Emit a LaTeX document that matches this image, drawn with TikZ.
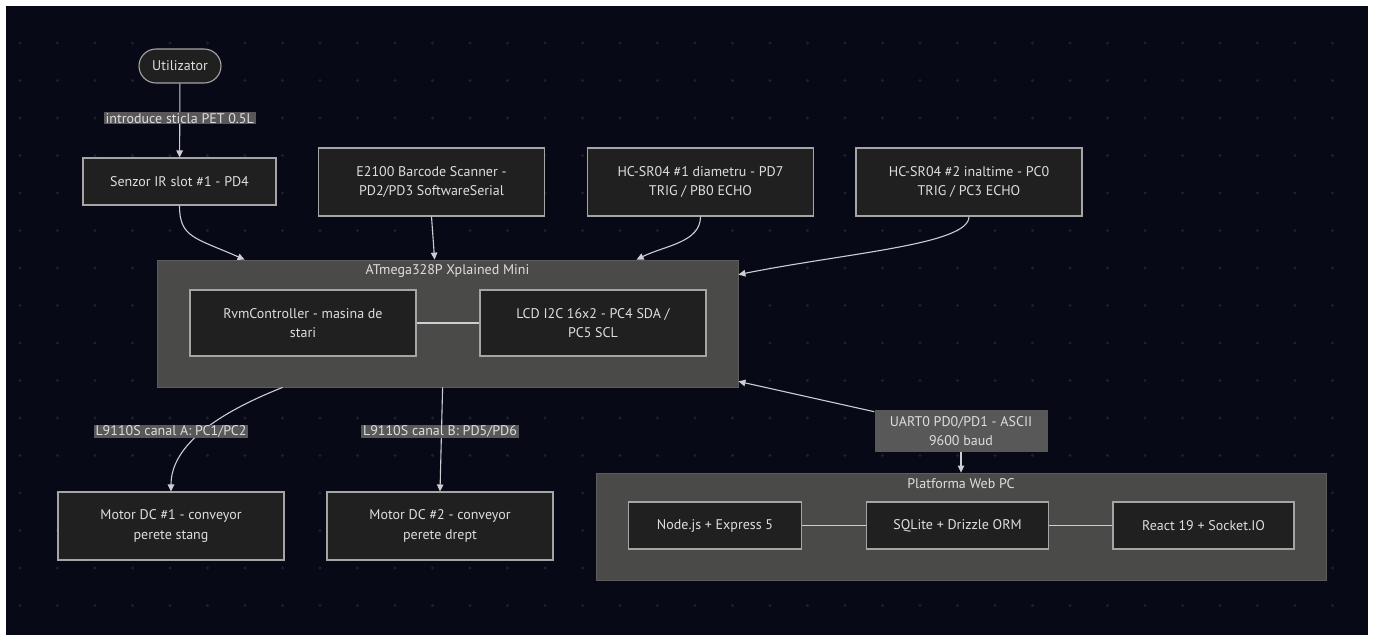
\documentclass[tikz,border=0pt]{standalone}
\usepackage{fontspec}
\setmainfont{PT Sans}
\usetikzlibrary{arrows.meta}
\definecolor{bgc}{RGB}{7,9,23}
\definecolor{dotc}{RGB}{30,32,46}
\definecolor{boxfill}{RGB}{32,32,32}
\definecolor{boxline}{RGB}{165,165,165}
\definecolor{clusterfill}{RGB}{74,75,73}
\definecolor{clusterline}{RGB}{92,92,92}
\definecolor{lblfill}{RGB}{88,88,88}
\definecolor{txt}{RGB}{222,222,222}
\definecolor{edgec}{RGB}{205,205,210}
\begin{document}
\begin{tikzpicture}[x=1pt,y=-1pt,
		font=\fontsize{14}{19.5}\selectfont,
		box/.style={draw=boxline,fill=boxfill,text=txt,line width=1.1pt,align=center,inner sep=0pt,minimum width=226pt,minimum height=68pt},
		cluster/.style={draw=clusterline,fill=clusterfill,line width=0.8pt,inner sep=0pt},
		lbl/.style={fill=lblfill,text=txt,align=center,inner ysep=1pt,inner xsep=2pt},
		arr/.style={draw=edgec,line width=1.1pt,-{Triangle[length=7pt,width=6.5pt]}},
		link/.style={draw=edgec,line width=1.1pt}]
	%Background
	\useasboundingbox (0,0) rectangle (1375,635);
	\fill[white] (0,0) rectangle (1375,635);
	\fill[bgc] (6,6) rectangle (1368,635);
	\foreach \i in {0,...,35}
		\foreach \j in {0,...,15}
			{
				\fill[dotc] (20+37.5*\i,43+37.5*\j) circle (1.6);
			}
	%Clusters
	\node (atmega) at (447.5,323.5) [cluster,minimum width=581pt,minimum height=127pt] {};
	\node (atmegat) at (atmega.north) [anchor=north,text=txt,inner sep=4.5pt] {ATmega328P Xplained Mini};
	\node (platform) at (961,526.5) [cluster,minimum width=730pt,minimum height=107pt] {};
	\node (platformt) at (platform.north) [anchor=north,text=txt,inner sep=5.5pt] {Platforma Web PC};
	%User and sensors
	\node (utiliz) at (180,66) [box,minimum width=82pt,minimum height=34pt,rounded corners=17pt] {Utilizator};
	\node (senzor) at (179.5,181.5) [box,minimum width=193pt,minimum height=47pt] {Senzor IR slot \#1 - PD4};
	\node (e2100) at (431.5,182) [box] {E2100 Barcode Scanner -\\PD2/PD3 SoftwareSerial};
	\node (hc1) at (700.5,182) [box] {HC-SR04 \#1 diametru - PD7\\TRIG / PB0 ECHO};
	\node (hc2) at (969,182) [box] {HC-SR04 \#2 inaltime - PC0\\TRIG / PC3 ECHO};
	%Inside the board
	\node (rvm) at (303,323) [box,minimum height=66pt] {RvmController - masina de\\stari};
	\node (lcd) at (593,323) [box,minimum height=66pt] {LCD I2C 16x2 - PC4 SDA /\\PC5 SCL};
	\draw[link] (rvm) -- (lcd);
	%Motors
	\node (motor1) at (171,526) [box] {Motor DC \#1 - conveyor\\perete stang};
	\node (motor2) at (440,526) [box] {Motor DC \#2 - conveyor\\perete drept};
	%Web platform
	\node (nodejs) at (715,525.5) [box,minimum width=173pt,minimum height=47pt] {Node.js + Express 5};
	\node (sqlite) at (957.5,525.5) [box,minimum width=182pt,minimum height=47pt] {SQLite + Drizzle ORM};
	\node (react) at (1203.5,525.5) [box,minimum width=181pt,minimum height=47pt] {React 19 + Socket.IO};
	\draw[link] (nodejs) -- (sqlite);
	\draw[link] (sqlite) -- (react);
	%Edges
	\draw[arr] (utiliz) -- (senzor) node[lbl,pos=0.47] (lintro) {introduce sticla PET 0.5L};
	\draw[arr] (senzor.south) .. controls +(0,32) and +(-50,-22) .. ([xshift=88pt]atmega.north west);
	\draw[arr] (e2100.south) -- ([xshift=278pt]atmega.north west);
	\draw[arr] (hc1.south) .. controls +(0,26) and +(28,-14) .. ([xshift=480pt]atmega.north west);
	\draw[arr] (hc2.south) .. controls +(0,28) and +(110,-22) .. ([yshift=-15pt]atmega.north east);
	\draw[arr] ([xshift=126pt]atmega.south west) .. controls +(-63,25) and +(0,-47) .. (motor1.north);
	\node (lmotor1) at (171,431.5) [lbl] {L9110S canal A: PC1/PC2};
	\draw[arr] ([xshift=286pt]atmega.south west) -- (motor2.north);
	\node (lmotor2) at (440,431.5) [lbl] {L9110S canal B: PD5/PD6};
	%Serial link
	\node (uart) at (961,431) [lbl,minimum width=173pt,minimum height=42pt] {UART0 PD0/PD1 - ASCII\\9600 baud};
	\draw[arr] (uart) -- ([yshift=6pt]atmega.south east);
	\draw[arr] (uart) -- (platform.north);
\end{tikzpicture}
\end{document}
